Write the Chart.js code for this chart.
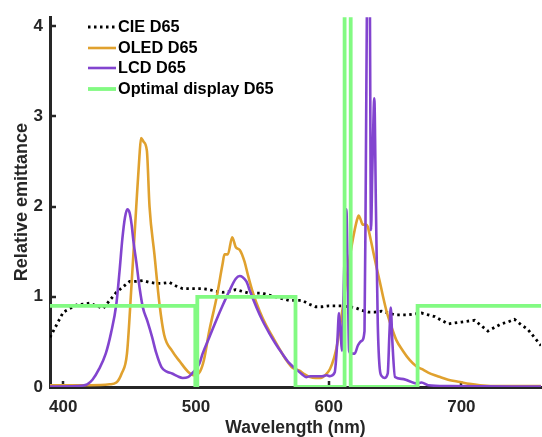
<!DOCTYPE html>
<html>
<head>
<meta charset="utf-8">
<script src="https://cdn.jsdelivr.net/npm/chart.js@4"></script>
<style>
  html, body { margin: 0; padding: 0; background: #fff; }
  #wrap { position: relative; width: 542px; height: 437px; }
</style>
</head>
<body>
<div id="wrap"><canvas id="c" width="542" height="437"></canvas></div>
<script>
// ---------- data ----------
const seriesLabels = ["CIE D65", "OLED D65", "LCD D65", "Optimal display D65"];
const xTickValues = [400, 500, 600, 700];
const yTickValues = [0, 1, 2, 3, 4];

const cieWl = [390,395,400,405,410,415,420,425,430,435,440,445,450,455,460,465,470,475,480,485,490,495,500,505,510,515,520,525,530,535,540,545,550,555,560,565,570,575,580,585,590,595,600,605,610,615,620,625,630,635,640,645,650,655,660,665,670,675,680,685,690,695,700,705,710,715,720,725,730,735,740,745,750,755,760];
const cieVal = [0.55,0.69,0.83,0.87,0.91,0.92,0.93,0.90,0.87,0.96,1.05,1.11,1.17,1.17,1.18,1.16,1.15,1.15,1.16,1.12,1.09,1.09,1.09,1.09,1.08,1.06,1.05,1.06,1.08,1.06,1.04,1.04,1.04,1.02,1.00,0.98,0.96,0.96,0.96,0.92,0.89,0.89,0.90,0.90,0.90,0.89,0.88,0.85,0.83,0.83,0.84,0.82,0.80,0.80,0.80,0.81,0.82,0.80,0.78,0.74,0.70,0.71,0.72,0.73,0.74,0.68,0.62,0.66,0.70,0.72,0.75,0.69,0.64,0.55,0.46];

const oledWl = [390,420,435,440,444,448,451.3,455,457.4,458.6,460.5,463,465,468.7,472.5,476,482,488,494,499,503,506,510,515.5,520,521.5,524,527.3,530,533,536.6,539,543,548,553,558,563,568,573,578,582,586,590,594,598,601,604,606,608,610.6,613,615,617.5,619.6,621.5,622.6,624,625.7,628,629.4,631,633,636,638.5,641,643.6,647,651,656,661,666,670,675,680,684,690,699,706,714,730,760];
const oledVal = [0.02,0.02,0.03,0.05,0.15,0.37,1.1,2.0,2.56,2.76,2.72,2.62,2.0,1.47,0.92,0.58,0.4,0.28,0.17,0.13,0.17,0.3,0.62,0.99,1.36,1.47,1.47,1.66,1.55,1.52,1.39,1.25,1.04,0.84,0.68,0.55,0.42,0.3,0.21,0.18,0.14,0.11,0.1,0.1,0.14,0.2,0.32,0.44,0.62,0.88,1.15,1.36,1.58,1.74,1.86,1.9,1.86,1.8,1.8,1.78,1.68,1.54,1.33,1.17,1.0,0.84,0.68,0.52,0.4,0.3,0.23,0.2,0.16,0.13,0.11,0.08,0.055,0.035,0.02,0.01,0.01];

const lcdWl = [390,410,418,422,427,432,436,440,442.5,444.5,446.5,448.3,450,451.5,453,455,457.5,460,463.4,467,470,474,478,482,486,490,494,497,500,502.6,505,510,515,520,525,530,533,535,538,541,545.7,550,555.5,560,565,570,576,580,583,586,590,595,598.5,601,604.5,606.5,607.8,609,610,611.5,613.3,614.5,615.4,617,619.6,622,624.7,627,628,629,630.2,631,631.9,632.9,634.4,635.6,637,638.5,640,642,644.5,645.8,646.8,648,650,655,660,666,670,675,690,760];
const lcdVal = [0.005,0.01,0.03,0.08,0.2,0.37,0.6,0.92,1.3,1.64,1.88,1.97,1.93,1.8,1.6,1.39,1.1,0.88,0.73,0.55,0.38,0.22,0.17,0.15,0.12,0.1,0.11,0.15,0.2,0.26,0.37,0.55,0.73,0.9,1.06,1.2,1.23,1.22,1.17,1.05,0.88,0.74,0.59,0.48,0.37,0.27,0.19,0.14,0.11,0.12,0.12,0.12,0.13,0.12,0.16,0.5,0.82,0.6,0.4,1.2,1.97,1.1,0.4,0.37,0.37,0.46,0.51,0.62,2.4,4.6,5.5,4.4,1.74,2.4,3.2,2.0,0.7,0.2,0.12,0.1,0.15,0.6,0.88,0.5,0.11,0.09,0.07,0.04,0.05,0.02,0.01,0.005];

const optWl = [390,499.5,499.5,501,501,575,575,612,612,616.6,616.6,667,667,760];
const optVal = [0.9,0.9,0,0,1.0,1.0,0,0,12,12,0,0,0.9,0.9];

// ---------- build ----------
const pts = (xs, ys) => xs.map((x, i) => ({x: x, y: ys[i]}));
const FONT = "'Liberation Sans', Arial, Helvetica, sans-serif";
const AXIS = '#262626';

const inwardTicks = {
  id: 'inwardTicks',
  beforeDatasetsDraw(chart) {
    const {ctx, chartArea: a, scales: {x, y}} = chart;
    ctx.save();
    ctx.strokeStyle = AXIS;
    ctx.lineWidth = 2.5;
    ctx.beginPath();
    xTickValues.forEach(v => {
      const px = Math.round(x.getPixelForValue(v));
      ctx.moveTo(px, a.bottom);
      ctx.lineTo(px, a.bottom - 6);
    });
    yTickValues.forEach(v => {
      const py = Math.round(y.getPixelForValue(v));
      ctx.moveTo(a.left, py);
      ctx.lineTo(a.left + 6, py);
    });
    ctx.stroke();
    ctx.restore();
  }
};

const insideLegend = {
  id: 'insideLegend',
  afterDraw(chart) {
    const ctx = chart.ctx;
    const x0 = 88, x1 = 116, tx = 118, rowY = [27, 48, 68, 89];
    ctx.save();
    ctx.font = "bold 16.3px " + FONT;
    ctx.textBaseline = 'middle';
    ctx.textAlign = 'left';
    chart.data.datasets.forEach((ds, i) => {
      const yy = rowY[i];
      ctx.beginPath();
      ctx.strokeStyle = ds.borderColor;
      ctx.lineWidth = ds.borderWidth;
      ctx.setLineDash(ds.borderDash || []);
      ctx.moveTo(x0, yy);
      ctx.lineTo(x1, yy);
      ctx.stroke();
      ctx.setLineDash([]);
      ctx.fillStyle = '#000';
      ctx.fillText(ds.label, tx, yy + 1);
    });
    ctx.restore();
  }
};

new Chart(document.getElementById('c'), {
  type: 'line',
  data: {
    datasets: [
      { label: seriesLabels[0], data: pts(cieWl, cieVal), borderColor: '#000000', borderWidth: 2.8,
        borderDash: [2.5, 3.5], pointRadius: 0, tension: 0, order: 4 },
      { label: seriesLabels[1], data: pts(oledWl, oledVal), borderColor: '#E0A12E', borderWidth: 2.6,
        pointRadius: 0, cubicInterpolationMode: 'monotone', order: 3 },
      { label: seriesLabels[2], data: pts(lcdWl, lcdVal), borderColor: '#8244CF', borderWidth: 2.6,
        pointRadius: 0, cubicInterpolationMode: 'monotone', order: 2 },
      { label: seriesLabels[3], data: pts(optWl, optVal), borderColor: '#82FA82', borderWidth: 3.8,
        pointRadius: 0, tension: 0, order: 1 }
    ]
  },
  options: {
    responsive: false,
    animation: false,
    devicePixelRatio: 1,
    layout: { padding: { top: 12, right: 1, left: 0, bottom: 0 } },
    plugins: { legend: { display: false }, tooltip: { enabled: false } },
    scales: {
      x: {
        type: 'linear', min: 390, max: 760,
        afterBuildTicks: s => { s.ticks = xTickValues.map(v => ({value: v})); },
        afterFit: s => { s.height = 50; },
        grid: { display: false, drawTicks: false },
        border: { display: true, color: AXIS, width: 3 },
        ticks: { color: AXIS, padding: 10, font: { family: FONT, size: 17, weight: 'bold' }, maxRotation: 0 },
        title: { display: true, text: 'Wavelength (nm)', color: AXIS,
                 font: { family: FONT, size: 17.5, weight: 'bold', lineHeight: 1.06 }, padding: { top: 0, bottom: 0 } }
      },
      y: {
        type: 'linear', min: 0, max: 4.1,
        afterBuildTicks: s => { s.ticks = yTickValues.map(v => ({value: v})); },
        afterFit: s => { s.width = 50; },
        grid: { display: false, drawTicks: false },
        border: { display: true, color: AXIS, width: 3 },
        ticks: { color: AXIS, padding: 7, font: { family: FONT, size: 17, weight: 'bold' } },
        title: { display: true, text: 'Relative emittance', color: AXIS,
                 font: { family: FONT, size: 18, weight: 'bold', lineHeight: 1.2 }, padding: { top: 11, bottom: 0 } }
      }
    }
  },
  plugins: [inwardTicks, insideLegend]
});
</script>
</body>
</html>
